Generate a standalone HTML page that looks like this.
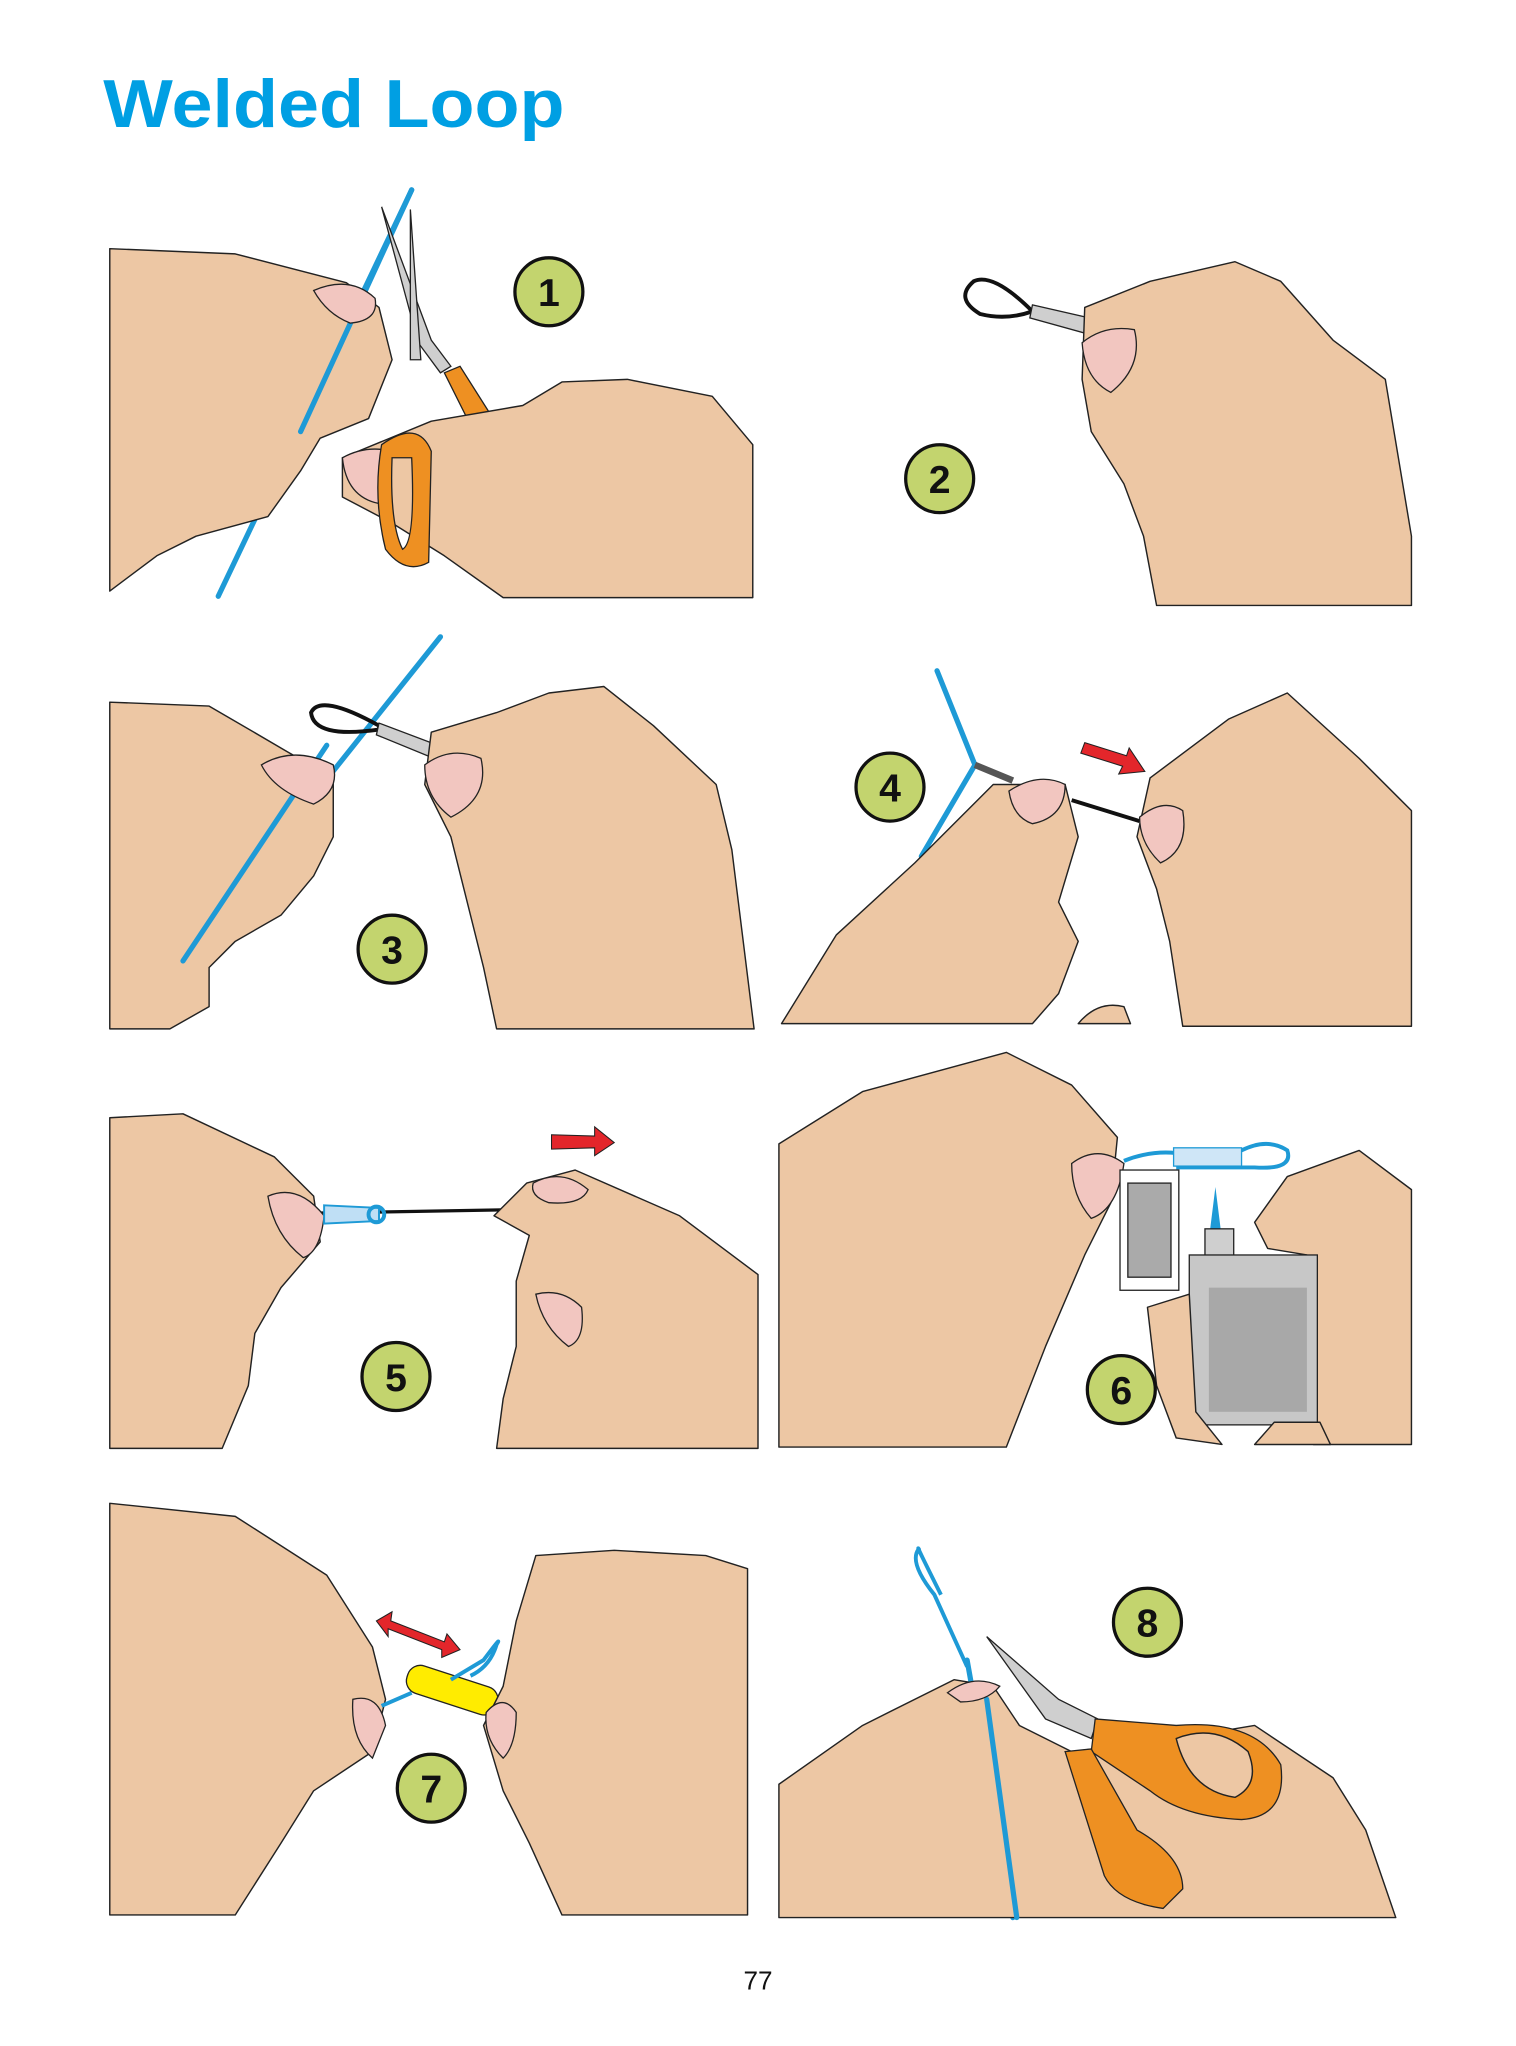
<!DOCTYPE html>
<html><head><meta charset="utf-8"><style>
html,body{margin:0;padding:0;background:#fff}
svg{display:block}
</style></head><body>
<svg width="1516" height="2046" viewBox="0 0 1160 1565" xmlns="http://www.w3.org/2000/svg">
<style>
.h{fill:#EDC7A4;stroke:#222;stroke-width:1.1;stroke-linejoin:round}
.n{fill:#F2C6C0;stroke:#222;stroke-width:1}
.b{fill:#C3D46E;stroke:#111;stroke-width:2.5}
.bt{font-family:"Liberation Sans",sans-serif;font-weight:bold;font-size:30px;text-anchor:middle;fill:#111}
.w{stroke:#1E9AD6;stroke-width:4;fill:none;stroke-linecap:round}
.o{fill:#EE9022;stroke:#222;stroke-width:1}
.r{fill:#E3262B;stroke:#222;stroke-width:0.8}
.g{fill:#cfcfcf;stroke:#222;stroke-width:1}
</style>
<text x="79" y="97" font-family="Liberation Sans,sans-serif" font-weight="bold" font-size="52" fill="#009FE3" textLength="353" lengthAdjust="spacingAndGlyphs">Welded Loop</text>

<!-- Panel 1 -->
<line x1="315" y1="145" x2="167" y2="456" class="w"/>
<path class="h" d="M84,190 L180,194 L265,216 L290,235 L300,275 L282,320 L245,335 L230,360 L205,395 L150,410 L120,425 L84,452 Z"/>
<line x1="315" y1="145" x2="230" y2="330" class="w"/>
<path class="n" d="M240,222 Q268,210 287,228 Q290,245 268,247 Q250,240 240,222Z"/>
<polygon class="g" points="292,158 330,260 345,280 337,285 320,262"/>
<polygon class="g" points="314,160 322,275 314,275"/>
<path class="o" d="M340,285 L352,280 L390,340 L380,362 L370,345 Z"/>
<path class="h" d="M262,350 L330,322 L400,310 L430,292 L480,290 L545,303 L576,340 L576,457 L385,457 L340,425 L300,400 L262,380 Z"/>
<path class="n" d="M262,350 Q280,340 300,345 L290,385 Q265,380 262,350Z"/>
<path class="o" d="M292,340 Q320,320 330,345 L328,430 Q310,440 295,420 Q285,380 292,340Z M300,350 Q298,400 308,420 Q318,415 315,350 Z" fill-rule="evenodd"/>
<circle cx="420" cy="223" r="26" class="b"/><text x="420" y="234" class="bt">1</text>

<!-- Panel 2 -->
<path d="M790,238 Q760,208 745,215 Q730,228 750,240 Q770,245 790,238Z" fill="none" stroke="#111" stroke-width="3"/>
<polygon class="g" points="790,233 838,244 835,256 788,243"/>
<path class="h" d="M830,235 L880,215 L945,200 L980,215 L1020,260 L1060,290 L1080,410 L1080,463 L885,463 L875,410 L860,370 L835,330 L828,290 Z"/>
<path class="n" d="M828,262 Q845,248 868,252 Q875,280 850,300 Q830,290 828,262Z"/>
<circle cx="719" cy="366" r="26" class="b"/><text x="719" y="377" class="bt">2</text>

<!-- Panel 3 -->
<line x1="337" y1="487" x2="135" y2="740" class="w"/>
<path class="h" d="M84,537 L160,540 L220,575 L255,595 L255,640 L240,670 L215,700 L180,720 L160,740 L160,770 L130,787 L84,787 Z"/>
<line x1="250" y1="570" x2="140" y2="735" class="w"/>
<path class="n" d="M200,585 Q225,570 255,585 Q260,605 240,615 Q210,605 200,585Z"/>
<path d="M290,555 Q245,530 238,545 Q240,565 290,558Z" fill="none" stroke="#111" stroke-width="3"/>
<polygon class="g" points="290,553 335,570 332,580 288,562"/>
<path class="h" d="M330,560 L380,545 L420,530 L462,525 L500,555 L548,600 L560,650 L577,787 L380,787 L370,740 L355,680 L345,640 L325,600 Z"/>
<path class="n" d="M325,585 Q345,570 368,580 Q375,610 345,625 Q325,610 325,585Z"/>
<circle cx="300" cy="726" r="26" class="b"/><text x="300" y="737" class="bt">3</text>

<!-- Panel 4 -->
<polyline points="717,513 746,585 705,655" class="w"/>
<line x1="746" y1="585" x2="775" y2="597" stroke="#555" stroke-width="5"/>
<line x1="820" y1="612" x2="872" y2="628" stroke="#111" stroke-width="3"/>
<path class="h" d="M598,783 L640,715 L700,660 L760,600 L815,600 L825,640 L810,690 L825,720 L810,760 L790,783 Z"/>
<path class="n" d="M772,605 Q795,590 815,600 Q815,625 790,630 Q775,625 772,605Z"/>
<path class="h" d="M825,783 Q840,765 860,770 L865,783 Z"/>
<polygon class="r" points="830,568 862,578 864,572 876,590 856,592 859,586 827,576"/>
<path class="h" d="M880,595 L940,550 L985,530 L1040,580 L1080,620 L1080,785 L905,785 L895,720 L885,680 L870,640 Z"/>
<path class="n" d="M872,625 Q890,610 905,620 Q910,650 888,660 Q872,645 872,625Z"/>
<circle cx="681" cy="602" r="26" class="b"/><text x="681" y="613" class="bt">4</text>

<!-- Panel 5 -->
<line x1="240" y1="928" x2="410" y2="925" stroke="#111" stroke-width="2.5"/>
<path class="h" d="M84,855 L140,852 L210,885 L240,915 L245,950 L215,985 L195,1020 L190,1060 L170,1108 L84,1108 Z"/>
<path class="n" d="M205,915 Q228,905 248,930 Q245,958 232,962 Q210,945 205,915Z"/>
<polygon points="248,922 290,924 290,934 248,936" fill="#bfdff5" stroke="#1E9AD6" stroke-width="1.5"/>
<circle cx="288" cy="929" r="6" fill="none" stroke="#1E9AD6" stroke-width="3"/>
<polygon class="r" points="422,868 455,869 455,862 470,874 455,884 455,878 422,879"/>
<path class="h" d="M403,905 L440,895 L520,930 L580,975 L580,1108 L380,1108 L385,1070 L395,1030 L395,980 L405,945 L378,930 Z"/>
<path class="n" d="M408,905 Q430,893 450,910 Q445,922 420,920 Q405,915 408,905Z"/>
<path class="n" d="M410,990 Q430,985 445,1000 Q448,1025 435,1030 Q415,1015 410,990Z"/>
<circle cx="303" cy="1053" r="26" class="b"/><text x="303" y="1064" class="bt">5</text>

<!-- Panel 6 -->
<path class="h" d="M596,875 L660,835 L770,805 L820,830 L855,870 L850,920 L830,960 L800,1030 L770,1107 L596,1107 Z"/>
<path class="n" d="M820,890 Q840,875 860,890 Q855,925 835,932 Q820,915 820,890Z"/>
<path d="M860,888 Q880,880 900,882 L950,880 Q970,870 985,880 Q990,895 960,893 L900,893" fill="none" stroke="#1E9AD6" stroke-width="3"/>
<rect x="898" y="878" width="52" height="14" fill="#cfe6f7" stroke="#1E9AD6" stroke-width="1"/>
<rect x="857" y="895" width="45" height="92" fill="#fff" stroke="#222" stroke-width="1"/>
<rect x="863" y="905" width="33" height="72" fill="#aaa" stroke="#222" stroke-width="1"/>
<polygon points="930,908 934,940 926,940" fill="#1E9AD6"/>
<rect x="922" y="940" width="22" height="25" class="g"/>
<path class="h" d="M960,935 L985,900 L1040,880 L1080,910 L1080,1105 L1005,1105 L1000,960 L970,955 Z"/>
<rect x="910" y="960" width="98" height="130" fill="#c7c7c7" stroke="#222" stroke-width="1"/>
<rect x="925" y="985" width="75" height="95" fill="#a8a8a8"/>
<path class="h" d="M878,1000 L910,990 L915,1080 L935,1105 L900,1100 L885,1060 Z"/>
<path class="h" d="M960,1105 L975,1088 L1010,1088 L1018,1105 Z"/>
<circle cx="858" cy="1063" r="26" class="b"/><text x="858" y="1074" class="bt">6</text>

<!-- Panel 7 -->
<path class="h" d="M84,1150 L180,1160 L250,1205 L285,1260 L295,1300 L285,1340 L240,1370 L215,1410 L180,1465 L84,1465 Z"/>
<path class="n" d="M270,1300 Q290,1295 295,1320 L285,1345 Q268,1330 270,1300Z"/>
<line x1="292" y1="1305" x2="315" y2="1295" stroke="#1E9AD6" stroke-width="3"/>
<rect x="310" y="1282" width="72" height="22" rx="10" fill="#FFEC00" stroke="#222" stroke-width="1" transform="rotate(18 346 1293)"/>
<path d="M345,1285 L370,1270 Q385,1250 380,1258 Q375,1275 360,1282" fill="none" stroke="#1E9AD6" stroke-width="3"/>
<polygon class="r" points="288,1240 300,1233 299,1240 340,1256 342,1250 352,1262 338,1268 338,1262 297,1246 297,1252"/>
<path class="h" d="M410,1190 L470,1186 L540,1190 L572,1200 L572,1465 L430,1465 L405,1410 L385,1370 L370,1320 L385,1290 L395,1240 Z"/>
<path class="n" d="M372,1310 Q385,1295 395,1310 Q395,1335 385,1345 Q370,1330 372,1310Z"/>
<circle cx="330" cy="1368" r="26" class="b"/><text x="330" y="1379" class="bt">7</text>

<!-- Panel 8 -->
<line x1="740" y1="1270" x2="775" y2="1467" class="w"/>
<path d="M720,1220 Q700,1180 703,1185 Q695,1195 715,1220 L740,1275" fill="none" stroke="#1E9AD6" stroke-width="3"/>
<path class="h" d="M596,1365 L660,1320 L730,1285 L760,1290 L780,1320 L820,1340 L900,1330 L960,1320 L1020,1360 L1045,1400 L1068,1467 L596,1467 Z"/>
<line x1="755" y1="1300" x2="778" y2="1467" class="w"/>
<path class="n" d="M725,1295 Q745,1280 765,1290 Q755,1302 735,1302Z"/>
<polygon class="g" points="755,1252 810,1300 840,1315 835,1330 800,1315"/>
<path class="o" d="M838,1315 L900,1320 Q960,1315 980,1350 Q985,1390 950,1392 Q905,1390 880,1370 L835,1340 Z"/>
<path class="h" d="M900,1330 Q930,1318 955,1340 Q965,1365 945,1375 Q910,1370 900,1330Z"/>
<path class="o" d="M815,1340 L835,1338 L870,1400 Q905,1420 905,1445 L890,1460 Q855,1455 845,1435 Z"/>
<circle cx="878" cy="1241" r="26" class="b"/><text x="878" y="1252" class="bt">8</text>

<text x="580" y="1522" font-family="Liberation Sans,sans-serif" font-size="20" text-anchor="middle" fill="#111">77</text>
</svg>
</body></html>
